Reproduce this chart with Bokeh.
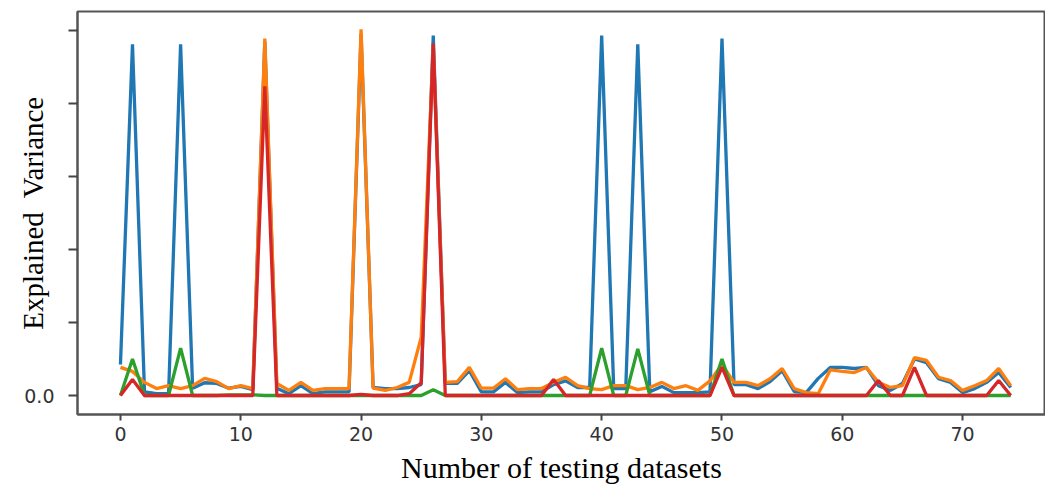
from bokeh.plotting import figure
from bokeh.models import ColumnDataSource, FixedTicker, Range1d
from bokeh.embed import file_html
from bokeh.resources import INLINE

# ---------------- data ----------------
x_idx = list(range(75))

blue = [0.085, 0.962, 0.010, 0.005, 0.005, 0.962, 0.020, 0.035, 0.033, 0.020,
        0.025, 0.016, 0.970, 0.020, 0.005, 0.027, 0.005, 0.010, 0.010, 0.010,
        0.990, 0.022, 0.019, 0.019, 0.022, 0.030, 0.986, 0.033, 0.033, 0.068,
        0.010, 0.010, 0.036, 0.008, 0.010, 0.010, 0.030, 0.040, 0.022, 0.022,
        0.986, 0.019, 0.019, 0.962, 0.010, 0.025, 0.008, 0.008, 0.008, 0.010,
        0.978, 0.030, 0.030, 0.019, 0.038, 0.068, 0.011, 0.008, 0.047, 0.077,
        0.077, 0.074, 0.077, 0.027, 0.014, 0.033, 0.100, 0.090, 0.046, 0.036,
        0.008, 0.019, 0.036, 0.063, 0.022]

orange = [0.077, 0.066, 0.036, 0.019, 0.027, 0.019, 0.027, 0.047, 0.038, 0.019,
          0.027, 0.019, 0.978, 0.033, 0.014, 0.036, 0.014, 0.019, 0.019, 0.019,
          1.003, 0.020, 0.014, 0.022, 0.036, 0.160, 0.960, 0.036, 0.038, 0.077,
          0.020, 0.020, 0.046, 0.016, 0.019, 0.019, 0.036, 0.050, 0.027, 0.019,
          0.016, 0.027, 0.027, 0.016, 0.022, 0.036, 0.019, 0.027, 0.014, 0.040,
          0.085, 0.036, 0.036, 0.027, 0.046, 0.074, 0.019, 0.008, 0.005, 0.070,
          0.066, 0.063, 0.077, 0.036, 0.022, 0.027, 0.104, 0.096, 0.050, 0.041,
          0.014, 0.027, 0.041, 0.074, 0.027]

green = [0.0, 0.100, 0.0, 0.0, 0.0, 0.130, 0.0, 0.0, 0.0, 0.002,
         0.002, 0.002, 0.0, 0.0, 0.0, 0.0, 0.0, 0.0, 0.0, 0.0,
         0.0, 0.0, 0.0, 0.0, 0.0, 0.0, 0.016, 0.0, 0.0, 0.0,
         0.0, 0.0, 0.0, 0.0, 0.0, 0.0, 0.0, 0.0, 0.0, 0.0,
         0.130, 0.0, 0.0, 0.128, 0.0, 0.0, 0.0, 0.0, 0.0, 0.0,
         0.100, 0.0, 0.0, 0.0, 0.0, 0.0, 0.0, 0.0, 0.0, 0.0,
         0.0, 0.0, 0.0, 0.0, 0.0, 0.0, 0.0, 0.0, 0.0, 0.0,
         0.0, 0.0, 0.0, 0.0, 0.0]

red = [0.0, 0.044, 0.0, 0.0, 0.0, 0.0, 0.0, 0.0, 0.0, 0.0,
       0.0, 0.0, 0.847, 0.0, 0.0, 0.0, 0.0, 0.0, 0.0, 0.0,
       0.003, 0.0, 0.0, 0.0, 0.005, 0.035, 0.964, 0.0, 0.0, 0.0,
       0.0, 0.0, 0.0, 0.0, 0.0, 0.0, 0.044, 0.0, 0.0, 0.0,
       0.0, 0.0, 0.0, 0.0, 0.0, 0.0, 0.0, 0.0, 0.0, 0.0,
       0.077, 0.0, 0.0, 0.0, 0.0, 0.0, 0.0, 0.0, 0.0, 0.0,
       0.0, 0.0, 0.0, 0.041, 0.0, 0.0, 0.077, 0.0, 0.0, 0.0,
       0.0, 0.0, 0.0, 0.041, 0.0]

x_ticks = [0, 10, 20, 30, 40, 50, 60, 70]
y_ticks = [0.0, 0.2, 0.4, 0.6, 0.8, 1.0]
y_tick_labels = {0.0: "0.0", 0.2: "", 0.4: "", 0.6: "", 0.8: "", 1.0: ""}

x_label = "Number of testing datasets"
y_label = "Explained\u00a0 Variance"

series_colors = ["#1f77b4", "#ff7f0e", "#2ca02c", "#d62728"]

# ---------------- figure ----------------
p = figure(width=1045, height=491, output_backend="svg", toolbar_location=None,
           x_range=Range1d(-3.57, 76.89), y_range=Range1d(-0.052, 1.052),
           min_border_left=77, min_border_right=0, min_border_top=11,
           min_border_bottom=77)
p.grid.visible = False
p.outline_line_color = "#555555"
p.outline_line_width = 2
p.background_fill_color = "white"
p.border_fill_color = "white"

src = ColumnDataSource(dict(x=x_idx, blue=blue, orange=orange, green=green, red=red))
for name, col in zip(["blue", "orange", "green", "red"], series_colors):
    p.line("x", name, source=src, line_color=col, line_width=3.3)

for ax in (p.xaxis[0], p.yaxis[0]):
    ax.axis_line_color = "#555555"
    ax.axis_line_width = 2
    ax.major_tick_line_color = "#444444"
    ax.major_tick_line_width = 2
    ax.major_tick_in = 0
    ax.minor_tick_line_color = None
    ax.major_label_text_font = "DejaVu Sans"
    ax.major_label_text_font_size = "19px"
    ax.major_label_text_color = "#333333"
    ax.axis_label_text_font = "Liberation Serif"
    ax.axis_label_text_font_style = "normal"
    ax.axis_label_text_color = "black"

p.xaxis[0].ticker = FixedTicker(ticks=x_ticks)
p.xaxis[0].major_tick_out = 6
p.xaxis[0].major_label_standoff = 6
p.xaxis[0].axis_label = x_label
p.xaxis[0].axis_label_text_font_size = "30px"
p.xaxis[0].axis_label_standoff = 7

p.yaxis[0].ticker = FixedTicker(ticks=y_ticks)
p.yaxis[0].major_label_overrides = y_tick_labels
p.yaxis[0].major_tick_out = 9
p.yaxis[0].major_label_standoff = 14
p.yaxis[0].axis_label = y_label
p.yaxis[0].axis_label_text_font_size = "29px"
p.yaxis[0].axis_label_standoff = -28

open("out.html", "w").write(file_html(p, INLINE))
